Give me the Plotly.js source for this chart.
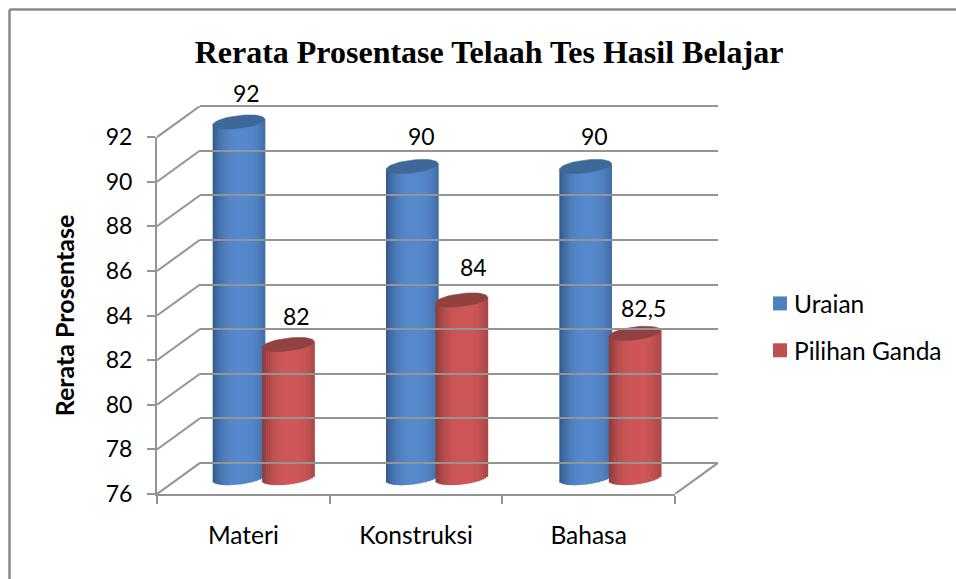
<!DOCTYPE html>
<html><head><meta charset="utf-8">
<script src="https://cdn.plot.ly/plotly-3.0.1.min.js"></script>
<style>html,body{margin:0;padding:0;background:#fff}#c{width:956px;height:579px}</style>
</head><body><div id="c"></div>
<script>
var categories = ['Materi','Konstruksi','Bahasa'];
var uraian = [92,90,90];
var pilihanGanda = [82,84,82.5];
var tickValues = [76,78,80,82,84,86,88,90,92];

var W=956,H=579,GRID='#949494';
function dx(a,b){return [a/W,b/W];}
function dy(bottom,top){return [1-bottom/H,1-top/H];}
var catIdx=categories.map(function(_,i){return i;});
var unitX=520/3, unitY=356/16;
var halfW=26/unitX, capB=6.5/unitY, capTilt=3/unitY, N=26;
function mix(a,b,f){return 'rgb('+a.map(function(v,i){return Math.round(v+(b[i]-v)*f);}).join(',')+')';}
function cylinder(values,off,edge,mid,cap){
  var xs=[],base=[],ys=[],widths=[],offs=[],cols=[];
  values.forEach(function(v,i){
    for(var k=0;k<N;k++){
      var t=-1+(2*k+1)/N;
      var b=76-capB*Math.sqrt(Math.max(0,1-t*t))+capTilt*t;
      xs.push(i);base.push(b);ys.push(v+capTilt*t-b);
      widths.push(2*halfW/N*1.35);offs.push(off-halfW+2*halfW*k/N);
      cols.push(mix(edge,mid,1-Math.pow(Math.abs(t-0.1)/1.1,2.8)));
    }
  });
  var ex=[],ey=[];
  values.forEach(function(v,i){
    for(var a=0;a<=48;a++){
      var th=a/48*2*Math.PI;
      ex.push(i+off+halfW*Math.cos(th));
      ey.push(v+capB*Math.sin(th)+capTilt*Math.cos(th));
    }
    ex.push(null);ey.push(null);
  });
  return [
    {type:'bar',x:xs,y:ys,base:base,width:widths,offset:offs,xaxis:'x2',yaxis:'y2',
     marker:{color:cols,line:{width:0}},cliponaxis:false,showlegend:false,hoverinfo:'skip'},
    {type:'scatter',mode:'lines',x:ex,y:ey,xaxis:'x2',yaxis:'y2',fill:'toself',fillcolor:cap,
     line:{color:cap,width:0.5},cliponaxis:false,showlegend:false,hoverinfo:'skip'}
  ];
}
var traces=[];
traces=traces.concat(cylinder(uraian,-25/unitX,[48,88,135],[86,136,204],'#3d6899'));
traces=traces.concat(cylinder(pilihanGanda,24.5/unitX,[136,58,58],[206,86,86],'#914140'));

// side walls of the chart box
var depthY=31/unitY;
tickValues.forEach(function(v){
  traces.push({type:'scatter',mode:'lines',x:[0,1],y:[v,v+depthY],xaxis:'x4',yaxis:'y4',
    line:{color:GRID,width:2},showlegend:false,hoverinfo:'skip',cliponaxis:false});
});
traces.push({type:'scatter',mode:'lines',x:[0,1],y:[76,76+depthY],xaxis:'x5',yaxis:'y4',
  line:{color:GRID,width:2},showlegend:false,hoverinfo:'skip',cliponaxis:false});
// legend entries
traces.push({type:'scatter',mode:'markers',x:[null],y:[null],name:'Uraian',legendgroup:'a',
  marker:{symbol:'square',size:14,color:'#4f81bd'}});
traces.push({type:'scatter',mode:'markers',x:[null],y:[null],name:'Pilihan Ganda',legendgroup:'b',
  marker:{symbol:'square',size:14,color:'#c0504d'}});

var FAM='Lato, Carlito, sans-serif';
var digitFont={family:FAM,size:23,color:'#000'};
var wordFont={family:FAM,size:24.5,color:'#000'};
var labelShift=[[8,29],[8,29],[9,31],[12,33],[9,31],[9,25]];
var annotations=[];
categories.forEach(function(_,i){
  [[uraian,-25],[pilihanGanda,24.5]].forEach(function(s,j){
    var sh=labelShift[i*2+j];
    annotations.push({xref:'x2',yref:'y2',x:i+s[1]/unitX,y:s[0][i],
      text:String(s[0][i]).replace('.',','),showarrow:false,xshift:sh[0],yshift:sh[1],font:digitFont});
  });
});

var hiddenAxis={visible:false,showgrid:false,zeroline:false,fixedrange:true};
function hid(o){return Object.assign({},hiddenAxis,o);}
var layout={
  width:W,height:H,margin:{l:0,r:0,t:0,b:0},paper_bgcolor:'#fff',plot_bgcolor:'rgba(0,0,0,0)',
  barmode:'overlay',
  title:{text:'<b>Rerata Prosentase Telaah Tes Hasil Belajar</b>',x:489/W,xanchor:'center',y:1-52/H,yanchor:'middle',
    font:{family:'Liberation Serif, serif',size:32,color:'#000'}},
  xaxis:{domain:dx(157,675),range:[-0.5,2.5],anchor:'y',tickmode:'array',tickvals:catIdx,ticktext:categories,
    ticks:'',showgrid:false,zeroline:false,showline:true,linecolor:GRID,linewidth:2,tickfont:wordFont,ticklabelstandoff:19,
    minor:{tickmode:'array',tickvals:[-0.5,0.5,1.5,2.5],ticks:'outside',ticklen:8,tickcolor:GRID,tickwidth:2,showgrid:false}},
  yaxis:{domain:dy(494,137),range:[76,92],anchor:'x',tickmode:'array',tickvals:tickValues,ticks:'outside',ticklen:8,tickcolor:GRID,tickwidth:2,
    showgrid:false,zeroline:false,showline:true,linecolor:GRID,linewidth:2,tickfont:digitFont,ticklabelstandoff:10,
    title:{text:'<b>Rerata Prosentase</b>',font:{family:FAM,size:25,color:'#000'},standoff:24}},
  xaxis2:hid({domain:dx(177,697),range:[-0.5,2.5],anchor:'y2'}),
  yaxis2:hid({domain:dy(478+2*unitY,122-2*unitY),range:[74,94],anchor:'x2'}),
  xaxis3:{domain:dx(200,718),range:[-0.5,2.5],anchor:'y3',visible:false},
  yaxis3:{domain:dy(463+unitY,106-unitY),range:[75,93],anchor:'x3',tickmode:'array',tickvals:tickValues,showgrid:true,gridcolor:GRID,gridwidth:2,
    zeroline:false,showline:false,ticks:'',showticklabels:false},
  xaxis4:hid({domain:dx(157,200),range:[0,1],anchor:'y4'}),
  xaxis5:hid({domain:dx(675,718),range:[0,1],anchor:'y4'}),
  yaxis4:hid({domain:dy(494,106),range:[76,92+depthY],anchor:'x4'}),
  showlegend:true,
  legend:{x:760/W,y:1-281/H,xanchor:'left',yanchor:'top',font:wordFont,tracegroupgap:12,itemwidth:30,bgcolor:'rgba(0,0,0,0)',itemclick:false,itemdoubleclick:false},
  annotations:annotations,
  shapes:[{type:'line',xref:'paper',yref:'paper',x0:9.5/W,x1:9.5/W,y0:0,y1:1-9.5/H,line:{color:'#8a8a8a',width:2.5}},
          {type:'line',xref:'paper',yref:'paper',x0:9.5/W,x1:1,y0:1-9.5/H,y1:1-9.5/H,line:{color:'#8a8a8a',width:2.5}}]
};
// bind the front axes and the back wall
traces.unshift({type:'scatter',mode:'none',x:catIdx,y:tickValues.slice(0,3),xaxis:'x3',yaxis:'y3',showlegend:false,hoverinfo:'skip'});
traces.unshift({type:'scatter',mode:'none',x:catIdx,y:uraian,xaxis:'x',yaxis:'y',showlegend:false,hoverinfo:'skip'});
Plotly.newPlot('c',traces,layout,{displayModeBar:false}).then(function(){
  document.querySelectorAll('.legend .legendtext').forEach(function(t){
    t.setAttribute('x',parseFloat(t.getAttribute('x'))-6);
  });
});
</script></body></html>
